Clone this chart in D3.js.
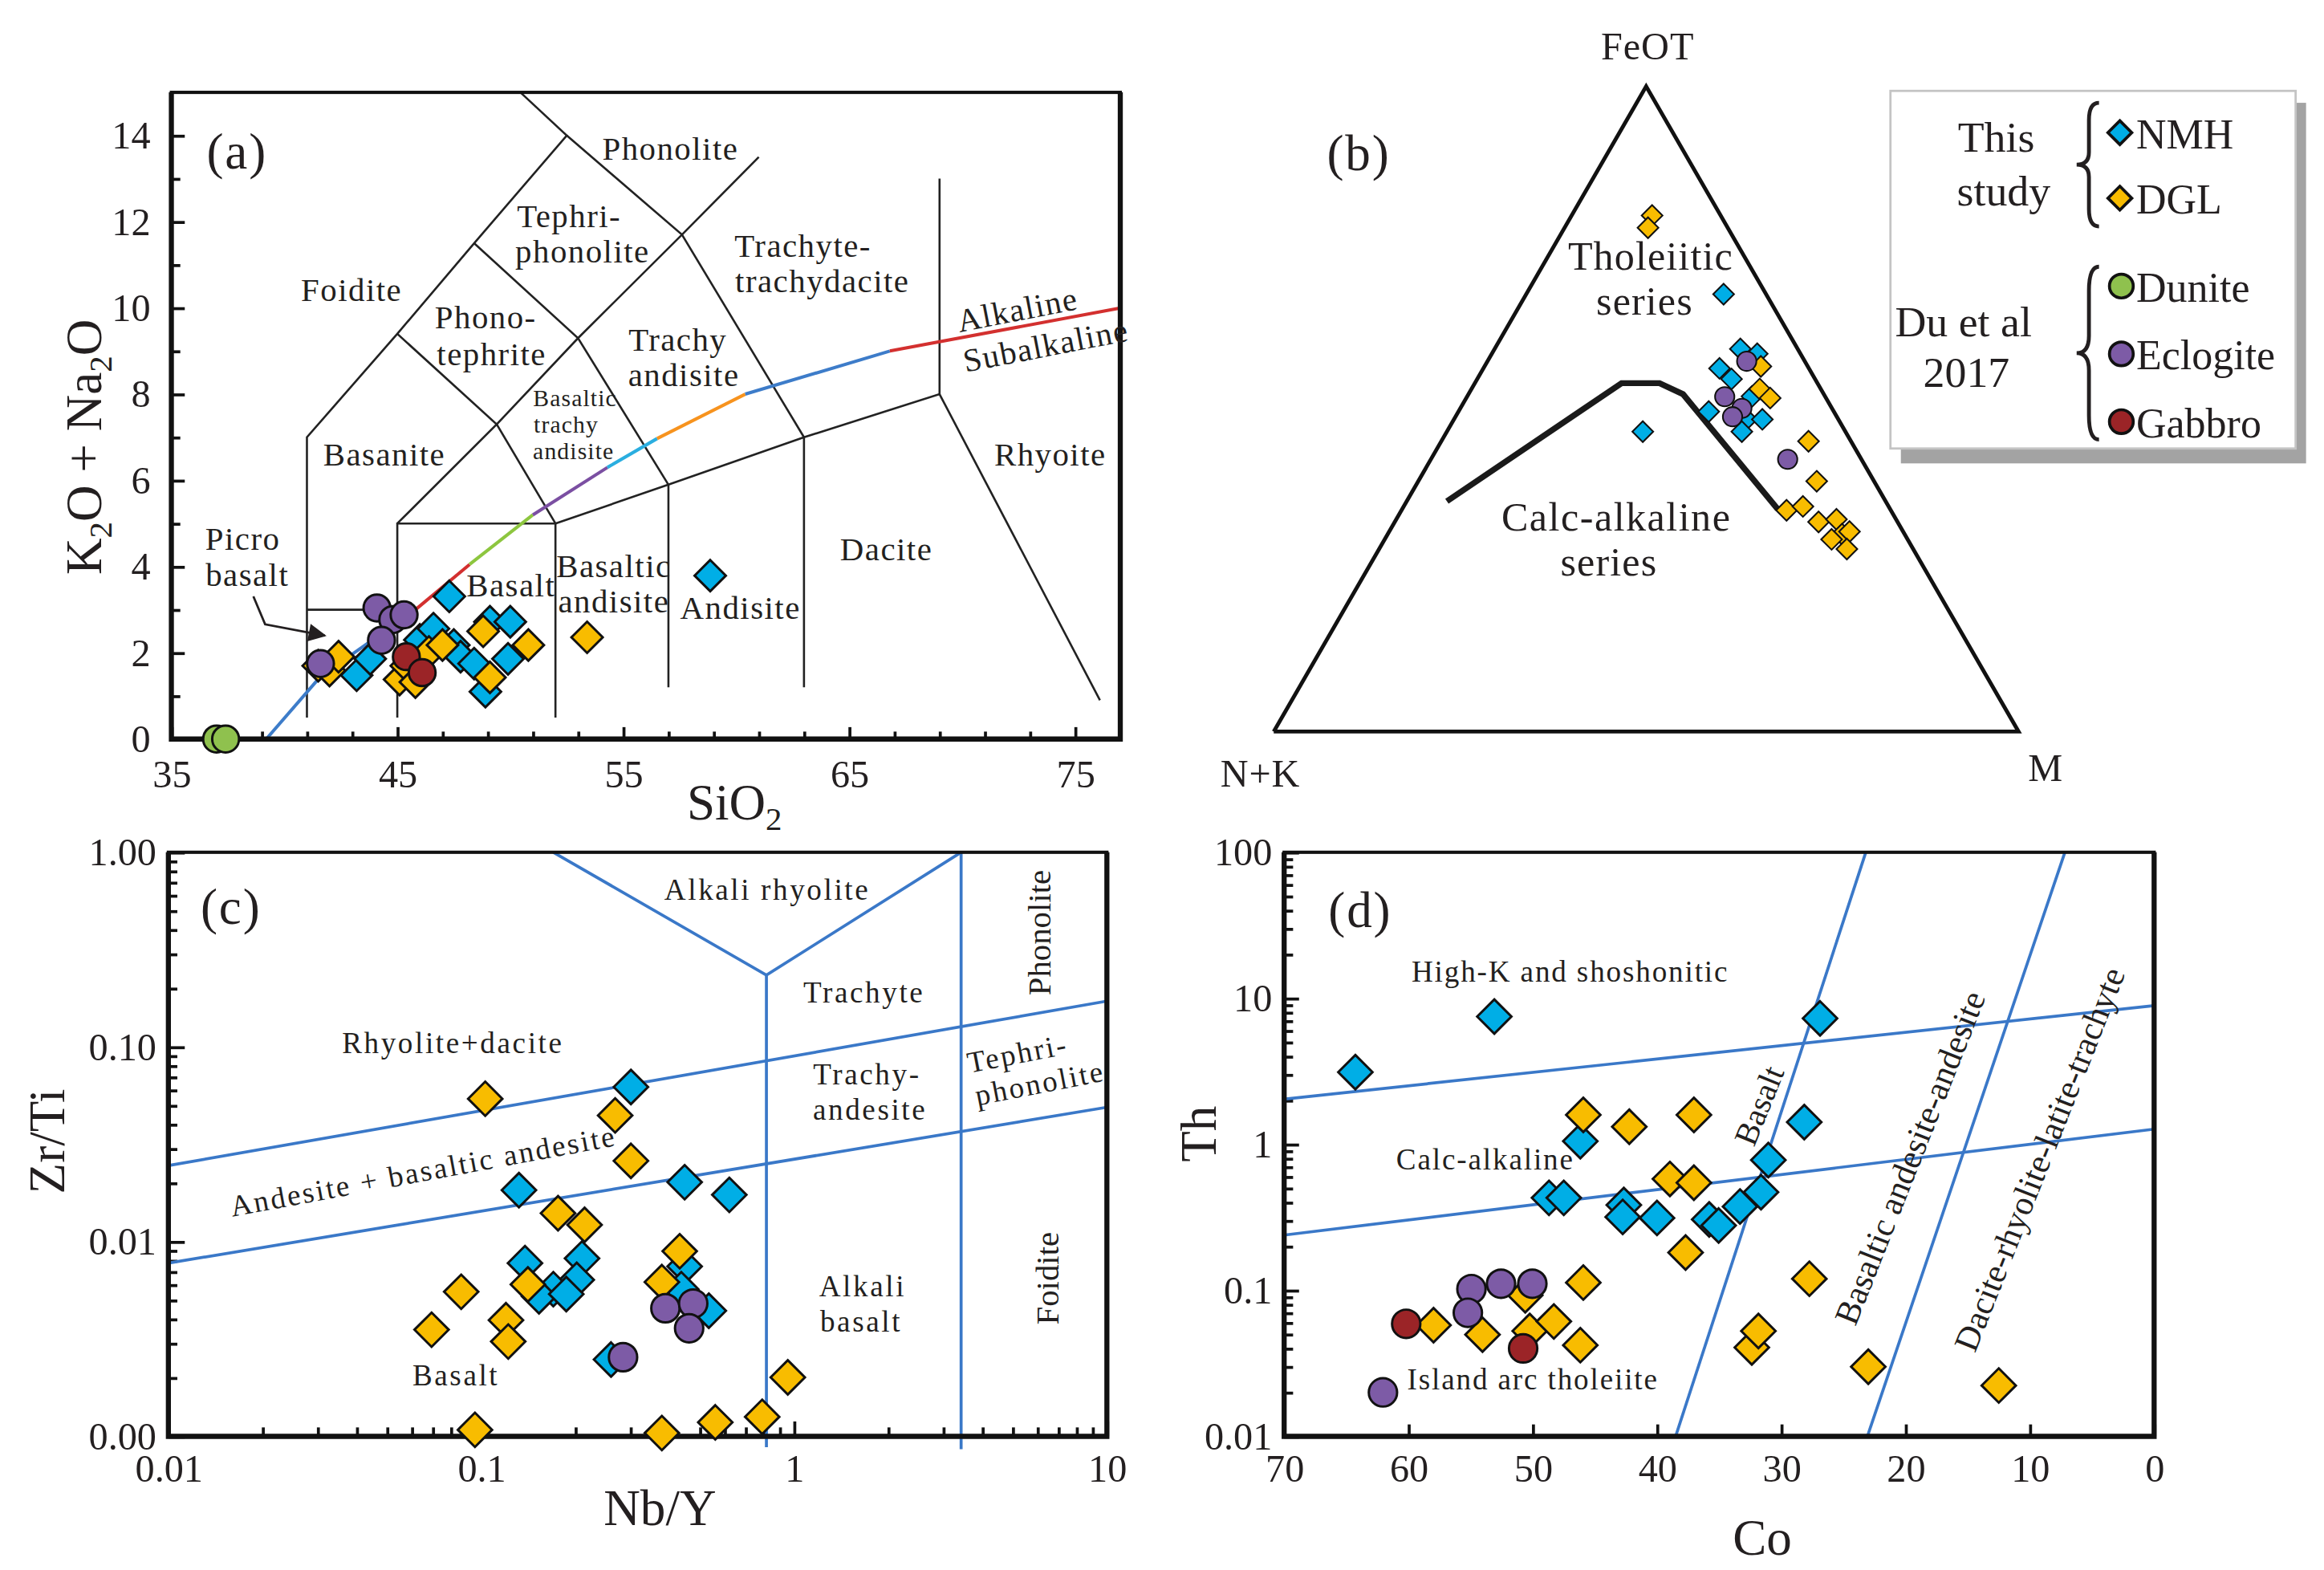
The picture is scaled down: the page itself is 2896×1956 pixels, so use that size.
<!doctype html>
<html>
<head>
<meta charset="utf-8">
<title>TAS / AFM / Zr-Ti / Th-Co</title>
<style>
  * { margin: 0; padding: 0; }
  body { background: #fff; }
  svg { display: block; }
</style>
</head>
<body>
<svg id="fig"></svg>
<script src="https://cdn.jsdelivr.net/npm/d3@7"></script>
<script>
// ---------- data: (a) TAS, SiO2 vs K2O+Na2O ----------
var tasNMH = [[47.3,3.31],[43.2,1.48],[43.8,1.86],[46.0,2.3],[46.6,2.56],[47.5,2.18],[47.8,1.91],[48.4,1.75],
              [48.9,1.1],[49.1,2.72],[50.0,2.72],[49.9,1.86],[58.85,3.79]];
var tasDGL = [[41.5,1.70],[42.0,1.59],[42.4,1.91],[45.1,1.38],[45.4,1.7],[45.8,1.32],[46.4,2.02],[47.0,2.18],
              [48.8,2.5],[49.1,1.43],[50.8,2.18],[53.4,2.36]];
var tasDunite = [[37.0,0],[37.4,0]];
var tasEclogite = [[41.6,1.75],[44.1,3.04],[44.8,2.77],[45.3,2.88],[44.3,2.29]];
var tasGabbro = [[45.4,1.91],[46.1,1.54]];
var tasFields = [
  [[41,0.5],[41,7],[45,9.4],[48.4,11.5],[52.5,14],[50.45,15]],
  [[41,3],[45,3]],
  [[45,0.5],[45,5],[52,5],[52,0.5]],
  [[45,5],[49.4,7.3],[52,5]],
  [[45,9.4],[49.4,7.3],[53,9.3],[57.6,11.7],[61,13.5]],
  [[48.4,11.5],[53,9.3],[57,5.9]],
  [[52,5],[57,5.9],[63,7],[69,8],[76.1,0.9]],
  [[57,5.9],[57,1.2]],
  [[63,7],[63,1.2]],
  [[52.5,14],[57.6,11.7],[63,7]],
  [[69,8],[69,13]]
];
var alkLine = [[39.2,0],[41.6,1.45],[45.8,3.0],[48.2,4.05],[51.0,5.2],[54.3,6.3],[56.5,6.97],[60.4,8.0],[66.8,9.0],[77,10.0]];
var alkColors = ['#3d7cc9','#3d7cc9','#d3302f','#8dc63f','#7b4fa2','#2aaee0','#f7931e','#3d7cc9','#d3302f'];
var picroArrow = [[38.63,3.31],[39.15,2.66],[41.79,2.40]];
var tasXTicks = [35,45,55,65,75];
var tasYTicks = [0,2,4,6,8,10,12,14];

// ---------- data: (b) AFM ternary, [A(N+K), F(FeOT), M] in % ----------
var afmDGL = [[9.2,80.0,10.8],[10.7,78.1,11.2],[6.3,56.6,37.1],[8.2,53.1,38.7],[7.5,51.7,40.8],[5.7,45.0,49.3],
              [7.7,38.8,53.5],[14.0,34.3,51.7],[11.5,34.9,53.6],[10.6,32.5,56.9],[8.0,32.9,59.1],[8.4,30.6,61.0],
              [7.2,31.0,61.8],[10.2,29.8,60.0],[8.9,28.3,62.8]];
var afmNMH = [[5.7,67.8,26.5],[7.7,59.3,33.0],[5.8,58.5,35.6],[12.0,56.3,31.7],[11.2,54.6,34.1],[9.8,51.9,38.2],
              [16.8,49.6,33.6],[12.3,48.4,39.3],[10.2,48.4,41.4],[13.9,46.5,39.6],[27.2,46.5,26.3]];
var afmEclogite = [[7.8,57.4,34.8],[13.5,51.9,34.6],[12.1,50.1,37.8],[14.0,48.8,37.2],[9.9,42.2,47.9]];
var afmBoundary = [[58.9,35.7,5.4],[26.3,54.0,19.7],[21.2,54.0,24.8],[18.9,52.3,28.8],[15.1,34.5,50.4]];

// ---------- data: (c) Nb/Y vs Zr/Ti ----------
var zrNMH = [[0.301,0.0623],[0.132,0.0184],[0.447,0.0202],[0.621,0.0174],[0.138,0.00776],[0.210,0.0082],
             [0.202,0.00637],[0.170,0.0057],[0.153,0.00524],[0.187,0.00538],[0.447,0.00746],[0.436,0.0057],
             [0.534,0.00442],[0.260,0.00248]];
var zrDGL = [[0.103,0.0542],[0.268,0.0445],[0.301,0.026],[0.176,0.0140],[0.214,0.0122],[0.431,0.00893],
             [0.141,0.00603],[0.0863,0.00553],[0.378,0.0062],[0.120,0.00395],[0.0694,0.00353],[0.122,0.00307],
             [0.955,0.00201],[0.0955,0.00108],[0.378,0.00104],[0.560,0.00118],[0.791,0.00126]];
var zrEclogite = [[0.388,0.00455],[0.476,0.00481],[0.462,0.00359],[0.284,0.00255]];
var zrFields = [
  [[0.01,0.0246],[10,0.172]],
  [[0.01,0.00776],[10,0.049]],
  [[0.170,1],[0.816,0.234],[3.42,1]],
  [[0.816,0.234],[0.816,0.00088]],
  [[3.42,1],[3.42,0.00086]]
];
var zrXTicks = [0.01,0.1,1,10];
var zrXLabels = ['0.01','0.1','1','10'];
var zrYTicks = [0.001,0.01,0.1,1];

// ---------- data: (d) Co vs Th ----------
var coNMH = [[64.27,3.12],[53.09,7.5],[46.17,1.05],[48.69,0.43],[47.5,0.43],[42.67,0.384],[42.76,0.318],
             [40.0,0.313],[35.8,0.306],[35.04,0.278],[33.32,0.375],[31.63,0.47],[31.04,0.78],[26.88,7.28],[28.15,1.42]];
var coDGL = [[45.93,1.59],[42.23,1.32],[37.03,1.59],[38.96,0.579],[37.03,0.546],[37.7,0.1815],[45.93,0.113],
             [50.6,0.0925],[57.98,0.0577],[54.04,0.0497],[50.24,0.0527],[48.3,0.0612],[46.17,0.0421],
             [32.37,0.0406],[31.84,0.0527],[27.74,0.120],[23.0,0.030],[12.5,0.0223]];
var coEclogite = [[54.93,0.102],[52.55,0.111],[50.03,0.111],[55.22,0.0702],[62.05,0.020]];
var coGabbro = [[60.18,0.059],[50.77,0.040]];
var coFields = [
  [[70,2.04],[0,8.9]],
  [[70,0.239],[0,1.27]],
  [[38.5,0.01],[23.2,100]],
  [[23.07,0.01],[7.18,100]]
];
var coXTicks = [70,60,50,40,30,20,10,0];
var coYTicks = [0.01,0.1,1,10,100];
var coYLabels = ['0.01','0.1','1','10','100'];

// ---------- legend ----------
var legendStudy = ['NMH','DGL'];
var legendDu = ['Dunite','Eclogite','Gabbro'];

var col = { NMH: '#00aee6', DGL: '#f8bc00', Dunite: '#8fc14e', Eclogite: '#7d5ba6', Gabbro: '#9b2427' };
var lineBlue = '#3a78c8';
var ink = '#231f20';
var serif = '"Liberation Serif","Times New Roman",Times,serif';

var W = 1560, H = 1053.7;
var svg = d3.select('#fig').attr('width', 2896).attr('height', 1956)
  .attr('viewBox', '0 0 ' + W + ' ' + H)
  .attr('font-family', serif);
svg.append('rect').attr('width', W).attr('height', H).attr('fill', '#fff');

svg.append('defs').append('marker').attr('id', 'arrow')
  .attr('viewBox', '0 0 10 10').attr('refX', 9).attr('refY', 5)
  .attr('markerWidth', 8).attr('markerHeight', 6).attr('markerUnits', 'userSpaceOnUse')
  .attr('orient', 'auto')
  .append('path').attr('d', 'M0,0L10,5L0,10Z').attr('fill', ink);
d3.select('#arrow').attr('markerWidth', 17).attr('markerHeight', 12);

function txt(g, x, y, s, o) {
  o = o || {};
  var t = g.append('text').attr('x', x).attr('y', y)
    .attr('font-size', o.size || 22)
    .attr('text-anchor', o.anchor || 'middle')
    .attr('dominant-baseline', o.base || 'central')
    .attr('letter-spacing', o.ls || 0)
    .attr('fill', ink).text(s);
  if (o.rot) t.attr('transform', 'rotate(' + o.rot + ',' + x + ',' + y + ')');
  return t;
}

function diamonds(g, pts, px, py, r, fill, sw) {
  g.selectAll(null).data(pts).join('path')
    .attr('d', 'M0,' + (-r) + 'L' + r + ',0L0,' + r + 'L' + (-r) + ',0Z')
    .attr('transform', function(d){ return 'translate(' + px(d) + ',' + py(d) + ')'; })
    .attr('fill', fill).attr('stroke', '#111').attr('stroke-width', sw || 1.6);
}
function circles(g, pts, px, py, r, fill, sw) {
  g.selectAll(null).data(pts).join('circle')
    .attr('cx', px).attr('cy', py).attr('r', r)
    .attr('fill', fill).attr('stroke', '#111').attr('stroke-width', sw || 1.6);
}

function styleAxis(g) {
  g.attr('font-family', serif).attr('font-size', 26).attr('color', ink);
  g.select('.domain').remove();
  g.selectAll('.tick line').attr('stroke', '#111').attr('stroke-width', 2);
}

function frame(g, x0, y0, x1, y1) {
  g.append('rect').attr('x', x0).attr('y', y0).attr('width', x1 - x0).attr('height', y1 - y0)
    .attr('fill', 'none').attr('stroke', '#111').attr('stroke-width', 2.2);
  g.append('path').attr('d', 'M' + x0 + ',' + y0 + 'V' + y1 + 'H' + x1 + 'V' + y0)
    .attr('fill', 'none').attr('stroke', '#111').attr('stroke-width', 3.4);
}

function logMinor(lo, hi) {
  var out = [];
  for (var dec = lo; dec < hi * 0.999; dec *= 10)
    for (var k = 2; k <= 9; k++) out.push(dec * k);
  return out;
}

// =============== (a) TAS ===============
var ga = svg.append('g');
var xa = d3.scaleLinear().domain([35, 77]).range([115, 752]);
var ya = d3.scaleLinear().domain([0, 15]).range([496, 62]);

ga.append('g').attr('transform', 'translate(0,' + ya(0) + ')')
  .call(d3.axisBottom(xa).tickValues(d3.range(35, 77, 2).filter(function(v){ return (v - 35) % 10; }))
    .tickSize(-5).tickFormat(''))
  .call(styleAxis);
ga.append('g').attr('transform', 'translate(0,' + ya(0) + ')')
  .call(d3.axisBottom(xa).tickValues(tasXTicks).tickSize(-8).tickPadding(14).tickFormat(d3.format('d')))
  .call(styleAxis);
ga.append('g').attr('transform', 'translate(' + xa(35) + ',0)')
  .call(d3.axisLeft(ya).tickValues(d3.range(1, 15, 2)).tickSize(-6).tickFormat(''))
  .call(styleAxis);
ga.append('g').attr('transform', 'translate(' + xa(35) + ',0)')
  .call(d3.axisLeft(ya).tickValues(tasYTicks).tickSize(-9).tickPadding(14).tickFormat(d3.format('d')))
  .call(styleAxis);

var lineA = d3.line().x(function(d){ return xa(d[0]); }).y(function(d){ return ya(d[1]); });
ga.selectAll(null).data(tasFields).join('path').attr('d', lineA)
  .attr('fill', 'none').attr('stroke', '#222').attr('stroke-width', 1.4);
ga.selectAll(null).data(d3.pairs(alkLine)).join('path').attr('d', lineA)
  .attr('fill', 'none').attr('stroke', function(d, i){ return alkColors[i]; }).attr('stroke-width', 2.2);
ga.append('path').datum(picroArrow).attr('d', lineA)
  .attr('fill', 'none').attr('stroke', ink).attr('stroke-width', 1.5).attr('marker-end', 'url(#arrow)');

frame(ga, xa(35), ya(15), xa(77), ya(0));

txt(ga, 159, 102, '(a)', { size: 34, ls: 1 });
txt(ga, 450, 100, 'Phonolite', { size: 22, ls: 0.8 });
txt(ga, 382, 145, 'Tephri-', { size: 22, ls: 0.8 });
txt(ga, 391, 169, 'phonolite', { size: 22, ls: 0.8 });
txt(ga, 539, 165, 'Trachyte-', { size: 22, ls: 0.8 });
txt(ga, 552, 189, 'trachydacite', { size: 22, ls: 0.8 });
txt(ga, 236, 195, 'Foidite', { size: 22, ls: 0.8 });
txt(ga, 326, 213, 'Phono-', { size: 22, ls: 0.8 });
txt(ga, 330, 238, 'tephrite', { size: 22, ls: 0.8 });
txt(ga, 455, 228, 'Trachy', { size: 22, ls: 0.8 });
txt(ga, 459, 252, 'andisite', { size: 22, ls: 0.8 });
txt(ga, 683, 208, 'Alkaline', { size: 22, ls: 0.8, rot: -11 });
txt(ga, 702, 232, 'Subalkaline', { size: 22, ls: 0.8, rot: -11 });
txt(ga, 386, 267, 'Basaltic', { size: 16, ls: 0.6 });
txt(ga, 380, 285, 'trachy', { size: 16, ls: 0.6 });
txt(ga, 385, 303, 'andisite', { size: 16, ls: 0.6 });
txt(ga, 258, 305, 'Basanite', { size: 22, ls: 0.8 });
txt(ga, 705, 305, 'Rhyoite', { size: 22, ls: 0.8 });
txt(ga, 163, 362, 'Picro', { size: 22, ls: 0.8 });
txt(ga, 166, 386, 'basalt', { size: 22, ls: 0.8 });
txt(ga, 595, 369, 'Dacite', { size: 22, ls: 0.8 });
txt(ga, 343, 393, 'Basalt', { size: 22, ls: 0.8 });
txt(ga, 412, 380, 'Basaltic', { size: 22, ls: 0.8 });
txt(ga, 412, 404, 'andisite', { size: 22, ls: 0.8 });
txt(ga, 497, 408, 'Andisite', { size: 22, ls: 0.8 });

var ka = ga.append('text').attr('transform', 'translate(68,300) rotate(-90)')
  .attr('text-anchor', 'middle').attr('font-size', 34).attr('fill', ink);
ka.append('tspan').text('K');
ka.append('tspan').attr('font-size', 22).attr('dy', 7).text('2');
ka.append('tspan').attr('dy', -7).text('O + Na');
ka.append('tspan').attr('font-size', 22).attr('dy', 7).text('2');
ka.append('tspan').attr('dy', -7).text('O');
var sa = ga.append('text').attr('x', 493).attr('y', 550).attr('text-anchor', 'middle')
  .attr('font-size', 34).attr('fill', ink);
sa.append('tspan').text('SiO');
sa.append('tspan').attr('font-size', 22).attr('dy', 7).text('2');

var pxA = function(d){ return xa(d[0]); }, pyA = function(d){ return ya(d[1]); };
diamonds(ga, tasNMH, pxA, pyA, 10.5, col.NMH);
diamonds(ga, tasDGL, pxA, pyA, 10.5, col.DGL);
circles(ga, tasDunite, pxA, pyA, 9, col.Dunite);
circles(ga, tasEclogite, pxA, pyA, 9, col.Eclogite);
circles(ga, tasGabbro, pxA, pyA, 9, col.Gabbro);

// =============== (b) AFM ===============
var gb = svg.append('g');
var xt = d3.scaleLinear().domain([0, 1]).range([855, 1355]);
var yt = d3.scaleLinear().domain([0, 1]).range([491, 58]);
var tX = function(d){ var s = d[0] + d[1] + d[2]; return xt(d[2] / s + d[1] / s / 2); };
var tY = function(d){ var s = d[0] + d[1] + d[2]; return yt(d[1] / s); };
var lineT = d3.line().x(tX).y(tY);

gb.append('path').datum([[100,0,0],[0,100,0],[0,0,100],[100,0,0]]).attr('d', lineT)
  .attr('fill', 'none').attr('stroke', '#111').attr('stroke-width', 2.6).attr('stroke-linejoin', 'miter');
gb.append('path').datum(afmBoundary).attr('d', lineT)
  .attr('fill', 'none').attr('stroke', '#1a1a1a').attr('stroke-width', 4);

txt(gb, 1106, 31, 'FeOT', { size: 26, ls: 0.5 });
txt(gb, 846, 519, 'N+K', { size: 26, ls: 0.5 });
txt(gb, 1373, 515, 'M', { size: 26 });
txt(gb, 912, 103, '(b)', { size: 34, ls: 1 });
txt(gb, 1108, 172, 'Tholeiitic', { size: 27, ls: 0.6 });
txt(gb, 1104, 202, 'series', { size: 27, ls: 0.6 });
txt(gb, 1085, 347, 'Calc-alkaline', { size: 27, ls: 0.8 });
txt(gb, 1080, 377, 'series', { size: 27, ls: 0.6 });

diamonds(gb, afmNMH, tX, tY, 7, col.NMH, 1.1);
diamonds(gb, afmDGL, tX, tY, 7, col.DGL, 1.1);
circles(gb, afmEclogite, tX, tY, 6.5, col.Eclogite, 1.1);

// legend
var gl = svg.append('g');
gl.append('rect').attr('x', 1276).attr('y', 69).attr('width', 272).attr('height', 242).attr('fill', '#a3a3a3');
gl.append('rect').attr('x', 1269).attr('y', 61).attr('width', 272).attr('height', 240)
  .attr('fill', '#fff').attr('stroke', '#c4c4c4').attr('stroke-width', 1.5);
txt(gl, 1340, 92, 'This', { size: 29 });
txt(gl, 1345, 128, 'study', { size: 29 });
txt(gl, 1318, 216, 'Du et al', { size: 29 });
txt(gl, 1320, 250, '2017', { size: 29 });

function brace(g, x, y0, y1, w) {
  var m = (y0 + y1) / 2, h = y1 - y0, xm = x + w * 0.55;
  var p = d3.path();
  p.moveTo(x + w, y0);
  p.quadraticCurveTo(xm, y0, xm, y0 + h * 0.14);
  p.lineTo(xm, m - h * 0.1);
  p.quadraticCurveTo(xm, m, x, m);
  p.quadraticCurveTo(xm, m, xm, m + h * 0.1);
  p.lineTo(xm, y1 - h * 0.14);
  p.quadraticCurveTo(xm, y1, x + w, y1);
  g.append('path').attr('d', p.toString()).attr('fill', 'none').attr('stroke', ink).attr('stroke-width', 2.6);
}
brace(gl, 1394, 69, 152, 15);
brace(gl, 1394, 179, 295, 15);

var ly1 = d3.scalePoint().domain(legendStudy).range([89, 133]);
var ly2 = d3.scalePoint().domain(legendDu).range([192, 283]);
diamonds(gl, legendStudy, function(){ return 1423; }, function(d){ return ly1(d); }, 8, null, 2);
gl.selectAll('path').filter(function(d){ return legendStudy.indexOf(d) >= 0; })
  .attr('fill', function(d){ return col[d]; });
circles(gl, legendDu, function(){ return 1424; }, function(d){ return ly2(d); }, 8, null, 2);
gl.selectAll('circle').attr('fill', function(d){ return col[d]; });
legendStudy.forEach(function(s){ txt(gl, 1434, ly1(s) + 1, s, { size: 28, anchor: 'start' }); });
legendDu.forEach(function(s){ txt(gl, 1434, ly2(s) + 1, s, { size: 28, anchor: 'start' }); });

// =============== (c) Zr/Ti - Nb/Y ===============
var gc = svg.append('g');
var xc = d3.scaleLog().domain([0.01, 10]).range([113, 743]);
var yc = d3.scaleLog().domain([0.001, 1]).range([964, 572]);

gc.append('g').attr('transform', 'translate(0,' + yc(0.001) + ')')
  .call(d3.axisBottom(xc).tickValues(logMinor(0.01, 10)).tickSize(-6).tickFormat(''))
  .call(styleAxis);
gc.append('g').attr('transform', 'translate(0,' + yc(0.001) + ')')
  .call(d3.axisBottom(xc).tickValues(zrXTicks).tickSize(-10).tickPadding(12)
    .tickFormat(function(d, i){ return zrXLabels[i]; }))
  .call(styleAxis);
gc.append('g').attr('transform', 'translate(' + xc(0.01) + ',0)')
  .call(d3.axisLeft(yc).tickValues(logMinor(0.001, 1)).tickSize(-6).tickFormat(''))
  .call(styleAxis);
gc.append('g').attr('transform', 'translate(' + xc(0.01) + ',0)')
  .call(d3.axisLeft(yc).tickValues(zrYTicks).tickSize(-11).tickPadding(8).tickFormat(d3.format('.2f')))
  .call(styleAxis);

var lineC = d3.line().x(function(d){ return xc(d[0]); }).y(function(d){ return yc(d[1]); });
gc.selectAll(null).data(zrFields).join('path').attr('d', lineC)
  .attr('fill', 'none').attr('stroke', lineBlue).attr('stroke-width', 2);

frame(gc, xc(0.01), yc(1), xc(10), yc(0.001));

txt(gc, 155, 609, '(c)', { size: 34, ls: 1 });
txt(gc, 515, 597, 'Alkali rhyolite', { size: 20, ls: 1.4 });
txt(gc, 580, 666, 'Trachyte', { size: 20, ls: 1.4 });
txt(gc, 304, 700, 'Rhyolite+dacite', { size: 20, ls: 1.4 });
txt(gc, 582, 721, 'Trachy-', { size: 20, ls: 1.4 });
txt(gc, 584, 745, 'andesite', { size: 20, ls: 1.4 });
txt(gc, 683, 707, 'Tephri-', { size: 20, ls: 1.4, rot: -11 });
txt(gc, 698, 727, 'phonolite', { size: 20, ls: 1.4, rot: -11 });
txt(gc, 698, 626, 'Phonolite', { size: 22, rot: -90 });
txt(gc, 284, 786, 'Andesite + basaltic andesite', { size: 20, ls: 1.4, rot: -10.5 });
txt(gc, 579, 863, 'Alkali', { size: 20, ls: 1.4 });
txt(gc, 578, 887, 'basalt', { size: 20, ls: 1.4 });
txt(gc, 703, 858, 'Foidite', { size: 22, rot: -90 });
txt(gc, 306, 923, 'Basalt', { size: 20, ls: 1.4 });

txt(gc, 32, 766, 'Zr/Ti', { size: 34, rot: -90 });
txt(gc, 443, 1012, 'Nb/Y', { size: 34 });

var pxC = function(d){ return xc(d[0]); }, pyC = function(d){ return yc(d[1]); };
diamonds(gc, zrNMH, pxC, pyC, 11.5, col.NMH);
diamonds(gc, zrDGL, pxC, pyC, 11.5, col.DGL);
circles(gc, zrEclogite, pxC, pyC, 9.5, col.Eclogite);

// =============== (d) Th - Co ===============
var gd = svg.append('g');
var xd = d3.scaleLinear().domain([70, 0]).range([862, 1446]);
var yd = d3.scaleLog().domain([0.01, 100]).range([964, 572]);

gd.append('g').attr('transform', 'translate(0,' + yd(0.01) + ')')
  .call(d3.axisBottom(xd).tickValues(coXTicks).tickSize(-8).tickPadding(12).tickFormat(d3.format('d')))
  .call(styleAxis);
gd.append('g').attr('transform', 'translate(' + xd(70) + ',0)')
  .call(d3.axisLeft(yd).tickValues(logMinor(0.01, 100)).tickSize(-6).tickFormat(''))
  .call(styleAxis);
gd.append('g').attr('transform', 'translate(' + xd(70) + ',0)')
  .call(d3.axisLeft(yd).tickValues(coYTicks).tickSize(-10).tickPadding(8)
    .tickFormat(function(d, i){ return coYLabels[i]; }))
  .call(styleAxis);

var lineD = d3.line().x(function(d){ return xd(d[0]); }).y(function(d){ return yd(d[1]); });
gd.selectAll(null).data(coFields).join('path').attr('d', lineD)
  .attr('fill', 'none').attr('stroke', lineBlue).attr('stroke-width', 2);

frame(gd, xd(70), yd(100), xd(0), yd(0.01));

txt(gd, 913, 611, '(d)', { size: 34, ls: 1 });
txt(gd, 1054, 652, 'High-K and shoshonitic', { size: 20, ls: 1 });
txt(gd, 997, 778, 'Calc-alkaline', { size: 20, ls: 1 });
txt(gd, 1029, 926, 'Island arc tholeiite', { size: 20, ls: 1 });
txt(gd, 1181, 742, 'Basalt', { size: 22, rot: -68 });
txt(gd, 1282, 777, 'Basaltic andesite-andesite', { size: 23, rot: -68.4 });
txt(gd, 1369, 778, 'Dacite-rhyolite-latite-trachyte', { size: 23, rot: -68.4 });

txt(gd, 805, 761, 'Th', { size: 34, rot: -90 });
txt(gd, 1183, 1032, 'Co', { size: 34 });

var pxD = function(d){ return xd(d[0]); }, pyD = function(d){ return yd(d[1]); };
diamonds(gd, coNMH, pxD, pyD, 11.5, col.NMH);
diamonds(gd, coDGL, pxD, pyD, 11.5, col.DGL);
circles(gd, coEclogite, pxD, pyD, 9.5, col.Eclogite);
circles(gd, coGabbro, pxD, pyD, 9.5, col.Gabbro);
</script>
</body>
</html>
